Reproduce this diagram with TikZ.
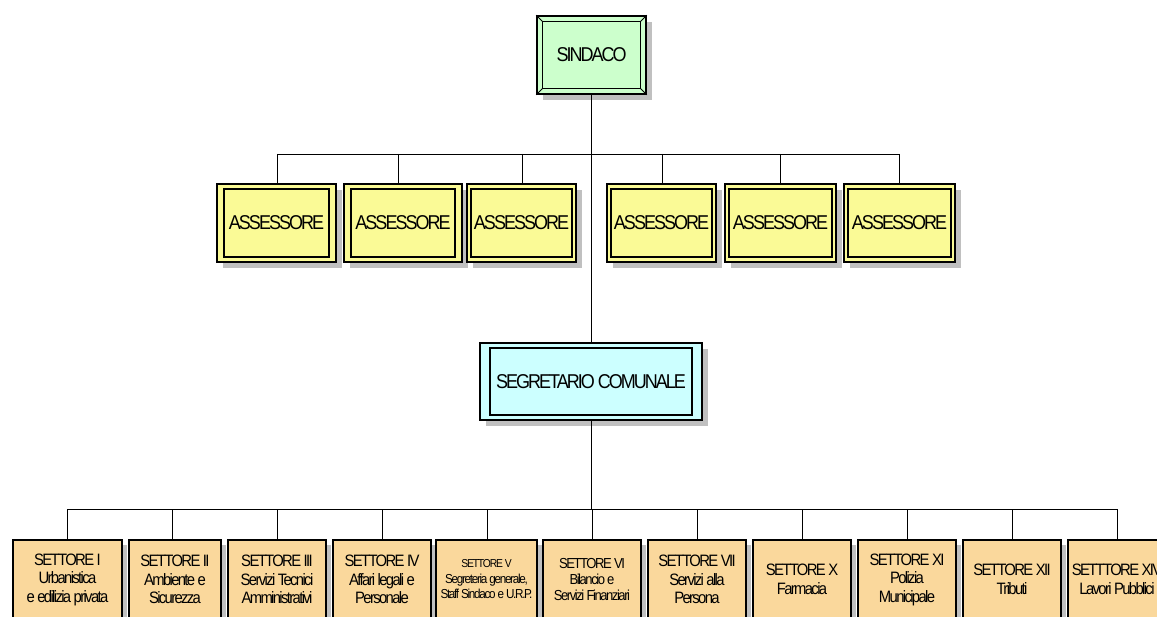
\documentclass[tikz,border=0pt]{standalone}
\usepackage{fontspec}
\newfontfamily\orgfont[FakeStretch=0.9,LetterSpace=-10]{Liberation Sans}
\usetikzlibrary{shadows}
\definecolor{sindacofill}{RGB}{204,255,204}
\definecolor{assfill}{RGB}{250,250,150}
\definecolor{segfill}{RGB}{204,255,255}
\definecolor{setfill}{RGB}{250,216,156}
\definecolor{shadowgray}{RGB}{192,192,192}
\begin{document}
\begin{tikzpicture}[x=1pt,y=-1pt,
  boxshadow/.style={drop shadow={shadow xshift=6pt,shadow yshift=-6pt,fill=shadowgray,opacity=1}},
  topbox/.style={draw=black,line width=1.6pt,inner sep=0pt,boxshadow,text=black,
    font=\orgfont\fontsize{20}{24}\selectfont},
  sindacobox/.style={topbox,fill=sindacofill,minimum width=109pt,minimum height=78pt},
  assbox/.style={topbox,fill=assfill,minimum height=78pt},
  segbox/.style={topbox,fill=segfill,minimum width=222pt,minimum height=77pt},
  settbox/.style={draw=black,line width=2pt,fill=setfill,inner sep=0pt,
    minimum width=98pt,minimum height=80pt,align=center,text=black,
    drop shadow={shadow xshift=5pt,shadow yshift=-5pt,fill=shadowgray,opacity=1},
    font=\orgfont\fontsize{16.5}{18.5}\selectfont},
  innerframe/.style={draw=black,line width=1.5pt},
  bevel/.style={draw=black,line width=1pt},
  conn/.style={draw=black,line width=0.9pt}]

\useasboundingbox (0,0) rectangle (1157,617);
\clip (0,0) rectangle (1157,617);

% ---- connectors (drawn first, boxes cover their ends) ----
\coordinate (a1top) at (277,154);
\coordinate (a2top) at (398,154);
\coordinate (a3top) at (522,154);
\coordinate (a4top) at (662,154);
\coordinate (a5top) at (780,154);
\coordinate (a6top) at (899,154);

\foreach \x [count=\i] in {67,172,277,382,487,592,697,802,907,1012,1117}
  \coordinate (b\i top) at (\x,509);

% ---- Sindaco ----
\node[sindacobox] (sindaco) at (591.5,55) {SINDACO};
\draw[innerframe,line width=1.2pt] ([shift={(6,6)}]sindaco.north west) rectangle ([shift={(-6,-6)}]sindaco.south east);
\draw[bevel] (sindaco.north west) -- ([shift={(6,6)}]sindaco.north west);
\draw[bevel] (sindaco.north east) -- ([shift={(-6,6)}]sindaco.north east);
\draw[bevel] (sindaco.south west) -- ([shift={(6,-6)}]sindaco.south west);
\draw[bevel] (sindaco.south east) -- ([shift={(-6,-6)}]sindaco.south east);

% ---- Segretario comunale ----
\node[segbox] (seg) at (591,381.5) {SEGRETARIO COMUNALE};
\draw[innerframe] ([shift={(11,6)}]seg.north west) rectangle ([shift={(-11,-6)}]seg.south east);

% ---- Assessori ----
\node[assbox,minimum width=119pt] (a1) at (276.5,223) {ASSESSORE};
\node[assbox,minimum width=118pt] (a2) at (403,223) {ASSESSORE};
\node[assbox,minimum width=109pt] (a3) at (521.5,223) {ASSESSORE};
\node[assbox,minimum width=109pt] (a4) at (661.5,223) {ASSESSORE};
\node[assbox,minimum width=111pt] (a5) at (780.5,223) {ASSESSORE};
\node[assbox,minimum width=111pt] (a6) at (899.5,223) {ASSESSORE};
\foreach \n/\dx in {a1/8,a2/8,a3/5,a4/5,a5/5,a6/5}
  \draw[innerframe] ([shift={(\dx,6)}]\n.north west) rectangle ([shift={(-\dx,-6)}]\n.south east);

% ---- Settori ----
\node[settbox,minimum width=109pt] (s1) at (67.5,579.5) {SETTORE I\\Urbanistica\\e edilizia privata};
\node[settbox,minimum width=92pt] (s2) at (175,579.5) {SETTORE II\\Ambiente e\\Sicurezza};
\node[settbox] (s3) at (277,579.5) {SETTORE III\\Servizi Tecnici\\Amministrativi};
\node[settbox] (s4) at (382,579.5) {SETTORE IV\\Affari legali e\\Personale};
\node[settbox,minimum width=101pt,font=\orgfont\fontsize{13}{15.5}\selectfont] (s5) at (486.5,579.5)
  {{\fontsize{11.5}{15.5}\selectfont SETTORE V}\\Segreteria generale,\\Staff Sindaco e U.R.P.};
\node[settbox,font=\orgfont\fontsize{14.5}{16}\selectfont] (s6) at (592,579.5) {SETTORE VI\\Bilancio e\\Servizi Finanziari};
\node[settbox] (s7) at (697,579.5) {SETTORE VII\\Servizi alla\\Persona};
\node[settbox] (s8) at (802,579.5) {SETTORE X\\Farmacia};
\node[settbox] (s9) at (907,579.5) {SETTORE XI\\Polizia\\Municipale};
\node[settbox] (s10) at (1012,579.5) {SETTORE XII\\Tributi};
\node[settbox] (s11) at (1117,579.5) {SETTTORE XIV\\Lavori Pubblici};

% ---- lines ----
\draw[conn] (sindaco.south) -- (sindaco.south |- seg.north);
\draw[conn] (a1top) -- (a6top);
\foreach \i in {1,...,6}
  \draw[conn] (a\i top) -- (a\i top |- a\i.north);
\draw[conn] (seg.south) -- (seg.south |- b1top);
\draw[conn] (b1top) -- (b11top);
\foreach \i in {1,...,11}
  \draw[conn] (b\i top) -- (b\i top |- s\i.north);
\end{tikzpicture}
\end{document}
